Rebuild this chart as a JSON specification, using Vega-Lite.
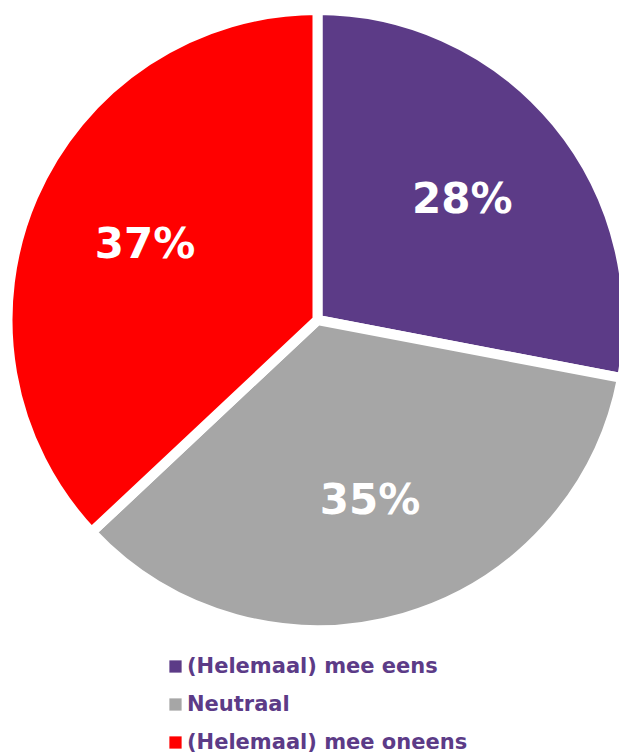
{
  "$schema": "https://vega.github.io/schema/vega-lite/v6.json",
  "width": 619,
  "height": 640,
  "autosize": {"type": "none"},
  "padding": {"left": 8, "right": -8, "top": 0, "bottom": 113},
  "background": "white",
  "data": {
    "values": [
      {"cat": "(Helemaal) mee eens", "order": 1, "pct": 28, "label": "28%"},
      {"cat": "Neutraal", "order": 2, "pct": 35, "label": "35%"},
      {"cat": "(Helemaal) mee oneens", "order": 3, "pct": 37, "label": "37%"}
    ]
  },
  "encoding": {
    "theta": {"field": "pct", "type": "quantitative", "stack": true},
    "order": {"field": "order", "type": "quantitative"},
    "color": {
      "field": "cat",
      "type": "nominal",
      "scale": {
        "domain": ["(Helemaal) mee eens", "Neutraal", "(Helemaal) mee oneens"],
        "range": ["#5C3B87", "#A6A6A6", "#FF0000"]
      },
      "legend": {
        "title": null,
        "orient": "none",
        "legendX": 157,
        "legendY": 656,
        "direction": "vertical",
        "symbolType": "square",
        "symbolSize": 150,
        "symbolStrokeWidth": 0,
        "symbolOpacity": 1,
        "labelFont": "DejaVu Sans",
        "labelFontWeight": "bold",
        "labelFontSize": 21,
        "labelColor": "#5C3B87",
        "labelOffset": 1,
        "rowPadding": 16,
        "labelLimit": 400
      }
    }
  },
  "layer": [
    {
      "mark": {"type": "arc", "outerRadius": 310, "stroke": "white", "strokeWidth": 10, "strokeJoin": "round"}
    },
    {
      "mark": {
        "type": "text",
        "radius": 188,
        "font": "DejaVu Sans",
        "fontWeight": "bold",
        "fontSize": 42,
        "fill": "white",
        "align": "center",
        "baseline": "middle"
      },
      "encoding": {
        "text": {"field": "label"},
        "color": {"value": "white"}
      }
    }
  ],
  "config": {"view": {"stroke": null}}
}
